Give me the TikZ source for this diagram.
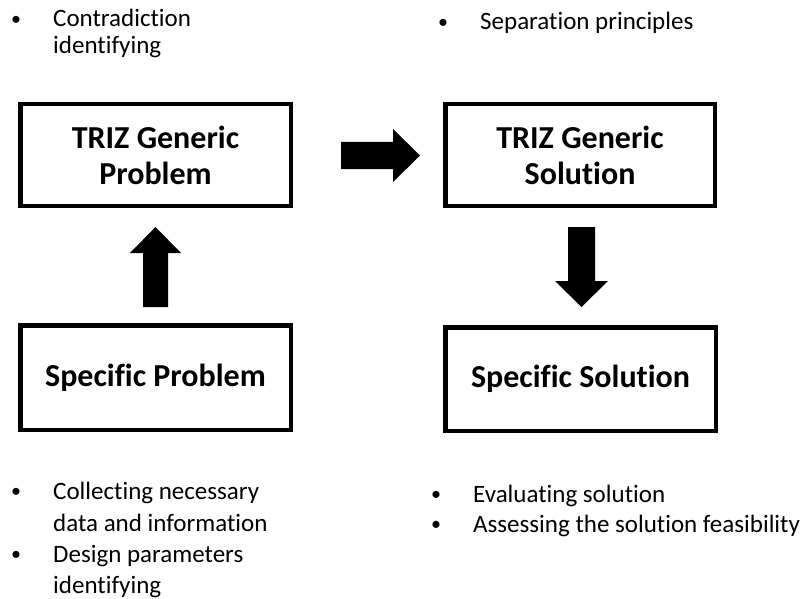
\documentclass[tikz,border=0pt]{standalone}
\usepackage{fontspec}
\setmainfont{Carlito}[Ligatures=NoCommon]
\newcommand{\bul}{{\fontsize{20}{22}\selectfont\raisebox{1.8pt}{•}}}
\begin{document}
\begin{tikzpicture}[x=1pt,y=-1pt,
  box/.style={draw=black,line width=4.5pt,inner sep=0pt,align=center,
    font=\bfseries\fontsize{32}{36}\selectfont},
  blk/.style={fill=black,draw=none},
  txt/.style={anchor=base west,inner sep=0pt,font=\fontsize{25}{30}\selectfont}]
\useasboundingbox (0,0) rectangle (803,599);
% boxes
\node[box,minimum width=270.5pt,minimum height=101.5pt] (gp) at (155.5,155) {TRIZ Generic\\Problem};
\node[box,minimum width=269.5pt,minimum height=101.5pt] (gs) at (580,155) {TRIZ Generic\\Solution};
\node[box,minimum width=270.5pt,minimum height=104.5pt] (sp) at (155.5,377.5) {Specific Problem};
\node[box,minimum width=270.5pt,minimum height=103.5pt] (ss) at (580.5,379) {Specific Solution};
% block arrows
\fill[blk] (341,142) -- (393,142) -- (393,129) -- (420,155.5) -- (393,182) -- (393,169) -- (341,169) -- cycle;
\fill[blk] (143,307) -- (143,253) -- (130,253) -- (155.5,227) -- (181,253) -- (168,253) -- (168,307) -- cycle;
\fill[blk] (568,227) -- (595,227) -- (595,281) -- (608,281) -- (581.5,307) -- (555,281) -- (568,281) -- cycle;
% top-left bullet
\node[txt] (b1) at (11,27) {\bul};
\node[txt] (t1a) at (53,27) {Contradiction};
\node[txt] (t1b) at (53,54) {identifying};
% top-right bullet
\node[txt] (b2) at (438,30) {\bul};
\node[txt] (t2a) at (480,30) {Separation principles};
% bottom-left bullets
\node[txt] (b3) at (11,499) {\bul};
\node[txt] (t3a) at (53,499) {Collecting necessary};
\node[txt] (t3b) at (53,531) {data and information};
\node[txt] (b4) at (11,562) {\bul};
\node[txt] (t4a) at (53,562) {Design parameters};
\node[txt] (t4b) at (53,593) {identifying};
% bottom-right bullets
\node[txt] (b5) at (431,502) {\bul};
\node[txt] (t5a) at (473,502) {Evaluating solution};
\node[txt] (b6) at (431,532) {\bul};
\node[txt] (t6a) at (473,532) {Assessing the solution feasibility};
\end{tikzpicture}
\end{document}
